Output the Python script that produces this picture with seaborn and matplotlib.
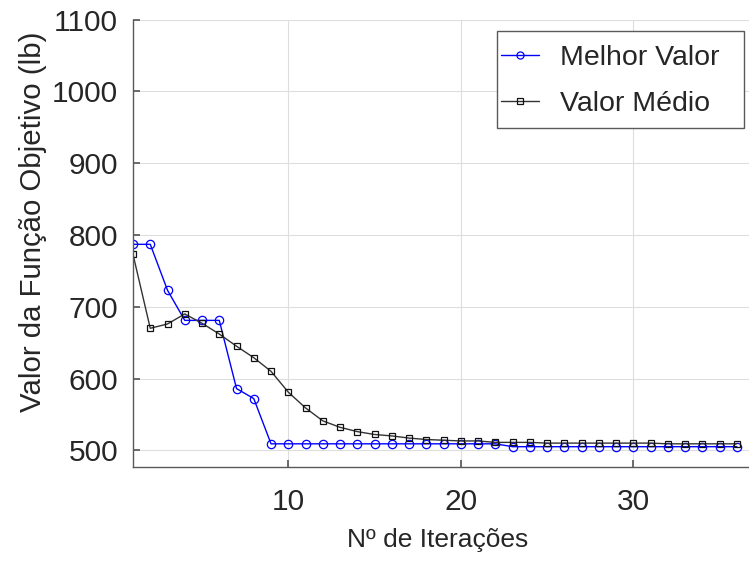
import numpy as np
import pandas as pd
import matplotlib
matplotlib.use("Agg")
import matplotlib.pyplot as plt
from matplotlib.patches import Rectangle
import seaborn as sns

iterations = list(range(1, 37))
melhor_valor = [787, 787, 723, 681, 681, 681, 586, 572, 509, 509,
                509, 509, 509, 509, 509, 509, 509, 509, 509, 509,
                509, 509, 505, 505, 505, 505, 505, 505, 505, 505,
                505, 505, 505, 505, 505, 505]
valor_medio = [773, 670, 676, 690, 677, 662, 645, 629, 610, 581,
               559, 541, 532, 526, 522, 520, 517, 515, 514, 513,
               513, 511, 511, 511, 510, 510, 510, 510, 510, 510,
               510, 509, 509, 509, 509, 509]
series_names = ["Melhor Valor", "Valor Médio"]
y_ticks = [500, 600, 700, 800, 900, 1000, 1100]
x_ticks = [10, 20, 30]

sns.set_theme(style="white")
plt.rcParams['font.family'] = ['Liberation Sans', 'DejaVu Sans']

df_best = pd.DataFrame({"it": iterations, "v": melhor_valor})
df_mean = pd.DataFrame({"it": iterations, "v": valor_medio})

W, H = 749, 561
fig = plt.figure(figsize=(W / 100, H / 100), dpi=100)
ax_left, ax_bottom, ax_top = 133, 467, 19.7
ax = fig.add_axes([ax_left / W, 1 - ax_bottom / H, 1 - ax_left / W, (ax_bottom - ax_top) / H])

sns.lineplot(data=df_best, x="it", y="v", ax=ax, color="#0000ff", lw=1.0,
             marker="o", markersize=6, markerfacecolor="none",
             markeredgecolor="#0000ff", markeredgewidth=0.9,
             label=series_names[0])
sns.lineplot(data=df_mean, x="it", y="v", ax=ax, color="#333333", lw=1.0,
             marker="s", markersize=4.6, markerfacecolor="none",
             markeredgecolor="#111111", markeredgewidth=0.9,
             label=series_names[1])

ax.set_xlim(1, 36.7)
ax.set_ylim(476.7, 1100)
ax.set_yticks(y_ticks)
ax.set_xticks(x_ticks)
ax.grid(True, color="#dedede", lw=0.8)
ax.set_axisbelow(True)
for s in ["top", "right"]:
    ax.spines[s].set_visible(False)
for s in ["left", "bottom"]:
    ax.spines[s].set_color("#5a5a5a")
    ax.spines[s].set_linewidth(1.0)
ax.tick_params(axis="both", direction="in", length=5, color="#5a5a5a",
               labelsize=21.5, labelcolor="#262626", left=True, bottom=True)
ax.tick_params(axis="x", pad=15)
ax.tick_params(axis="y", pad=10.8)

ax.set_xlabel("Nº de Iterações", fontsize=19, color="#262626")
ax.set_ylabel("Valor da Função Objetivo (lb)", fontsize=21.2, color="#262626")
ax_w, ax_h = W - ax_left, ax_bottom - ax_top
ax.xaxis.set_label_coords((438 - ax_left) / ax_w, (ax_bottom - 528) / ax_h)
ax.yaxis.set_label_coords((47 - ax_left) / ax_w, (ax_bottom - 222) / ax_h)

# legend frame (MATLAB style, white box)
frame = Rectangle((497 / W, 1 - 128 / H), 247 / W, 97 / H, transform=fig.transFigure,
                  facecolor="white", edgecolor="#5a5a5a", lw=1.0, zorder=4.5,
                  clip_on=False)
ax.add_artist(frame)

leg = ax.legend(loc="upper left", fontsize=20.5, frameon=False,
                handlelength=1.33, handletextpad=0.74,
                borderpad=0.13, labelspacing=0.70, markerscale=0.85,
                bbox_to_anchor=(497 / W, 1 - 41.3 / H), bbox_transform=fig.transFigure,
                borderaxespad=0)
leg.set_zorder(5)

fig.savefig("out.png", dpi=100)
